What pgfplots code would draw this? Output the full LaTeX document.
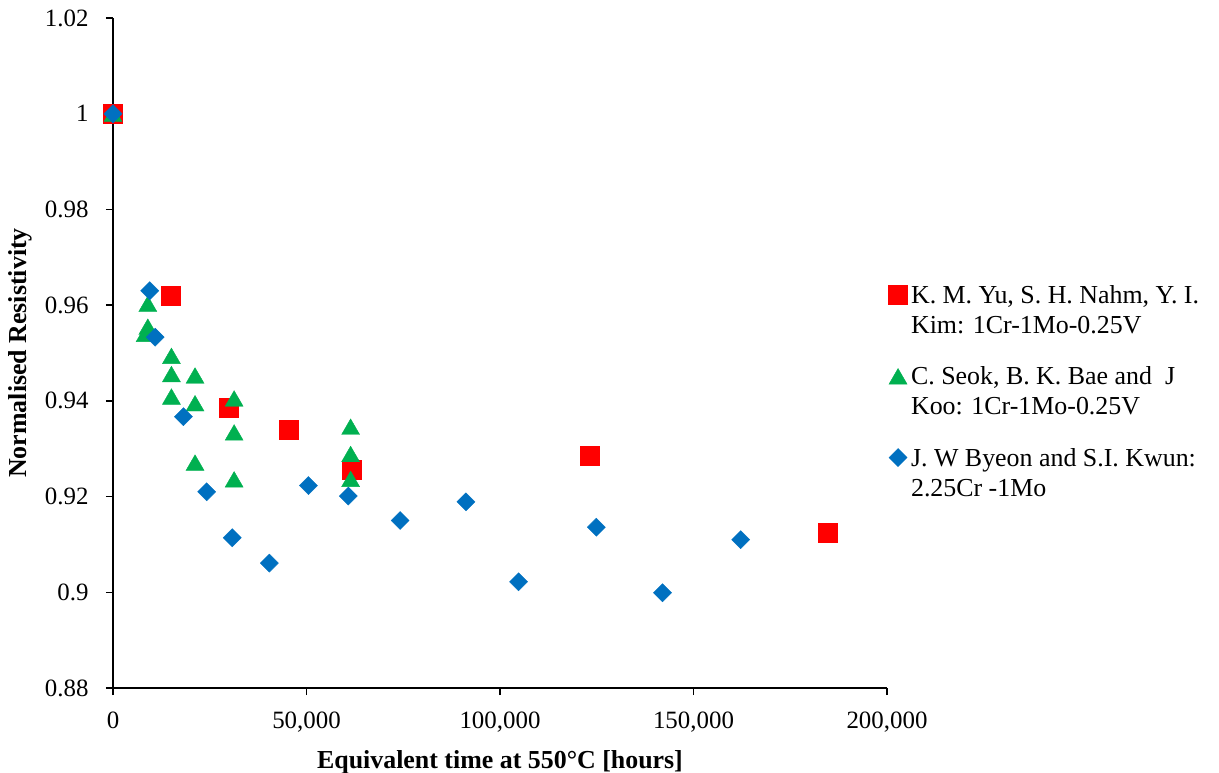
\documentclass[border=0pt]{standalone}
\usepackage{pgfplots}
\pgfplotsset{compat=1.18}
\usepackage{fontspec}
\setmainfont{Liberation Serif}
\definecolor{cred}{HTML}{FF0000}
\definecolor{cgreen}{HTML}{00B050}
\definecolor{cblue}{HTML}{0070C0}
\begin{document}
\begin{tikzpicture}
\begin{axis}[
  scale only axis, width=774bp, height=670bp,
  xmin=0, xmax=200000, ymin=0.88, ymax=1.02,
  axis x line*=bottom, axis y line*=left,
  axis line style={black, line width=1.5bp},
  tick align=outside, major tick length=7bp,
  tick style={black, line width=1.5bp},
  scaled x ticks=false, scaled y ticks=false,
  xtick={0,50000,100000,150000,200000},
  xticklabels={0,{50,000},{100,000},{150,000},{200,000}},
  ytick={0.88,0.9,0.92,0.94,0.96,0.98,1,1.02},
  yticklabels={0.88,0.9,0.92,0.94,0.96,0.98,1,1.02},
  ticklabel style={font=\fontsize{25}{30}\selectfont},
  xticklabel style={anchor=base, yshift=-33bp},
  yticklabel style={anchor=east, xshift=-14bp},
  every axis x label/.style={at={(axis description cs:0.5,0)}, anchor=base, yshift=-80bp},
  every axis y label/.style={at={(axis description cs:0,0.5)}, xshift=-93bp, anchor=center, rotate=90},
  label style={font=\fontsize{26}{30}\selectfont\bfseries},
  xlabel={Equivalent time at 550°C [hours]},
  ylabel={Normalised Resistivity},
  clip=false,
  legend image code/.code={\draw[mark repeat=1,#1] plot coordinates {(9.5bp,8.6bp)};},
  legend style={at={(1.002,0.6007)}, anchor=north west, draw=none, fill=none,
    inner sep=0pt, outer sep=0pt, row sep=33bp, column sep=3.5bp,
    font=\fontsize{26}{30}\selectfont,
    nodes={inner sep=0pt, text depth=}, cells={anchor=base west}},
]
\addplot[only marks, mark=square*, mark size=9.5bp, color=cred, mark options={draw=cred, fill=cred}]
  coordinates {(0,1.0) (15000,0.962) (30000,0.9385) (45300,0.934) (61800,0.9257) (123100,0.9286) (184800,0.9125)};
\addlegendentry{\parbox[t]{310bp}{K. M. Yu, S. H. Nahm, Y. I.\\Kim: 1Cr-1Mo-0.25V}}
\addplot[only marks, mark=triangle*, mark size=10.4bp, color=cgreen, mark options={draw=cgreen, fill=cgreen, yshift=-2.6bp}]
  coordinates {(0,1.0) (9000,0.9603) (9000,0.9555) (8300,0.9540) (15100,0.9494) (15100,0.9456) (15100,0.9409)
   (21200,0.9453) (21200,0.9395) (21200,0.9271) (31300,0.9405) (31300,0.9334) (31300,0.9236)
   (61400,0.9346) (61400,0.9289) (61400,0.9237)};
\addlegendentry{\parbox[t]{310bp}{C. Seok, B. K. Bae and\ \ J\\Koo: 1Cr-1Mo-0.25V}}
\addplot[only marks, mark=square*, mark size=6.4bp, color=cblue, mark options={draw=cblue, fill=cblue, rotate=45}]
  coordinates {(0,1.0) (9500,0.963) (10900,0.9533) (18200,0.9367) (24200,0.9210) (30800,0.9114) (40400,0.9061)
   (50500,0.9223) (60800,0.9201) (74200,0.9150) (91200,0.9189) (104800,0.9022) (124900,0.9136)
   (142000,0.8999) (162200,0.9110)};
\addlegendentry{\parbox[t]{310bp}{J. W Byeon and S.I. Kwun:\\2.25Cr -1Mo}}
\end{axis}
\pgfresetboundingbox
\path[use as bounding box] ([xshift=-113bp,yshift=-85bp]current axis.south west) rectangle ([xshift=332bp,yshift=18bp]current axis.north east);
\end{tikzpicture}
\end{document}
